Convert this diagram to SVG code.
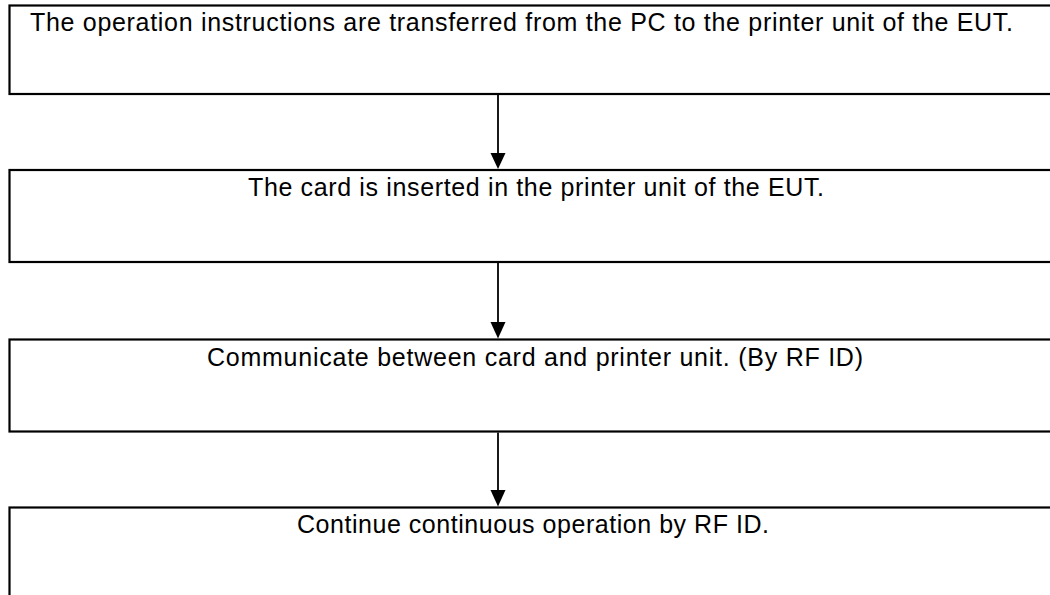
<svg xmlns="http://www.w3.org/2000/svg" width="1050" height="595" viewBox="0 0 1050 595">
<style>
.box{fill:#fff;stroke:#000;stroke-width:2.2}
.t{font-family:"Liberation Sans",Arial,sans-serif;font-size:25px;fill:#000}
.c{stroke:#000;stroke-width:1.8;fill:none}
.ah{fill:#000}
</style>
<rect width="1050" height="595" fill="#fff"/>
<g id="node1">
<rect class="box" x="9.5" y="5.5" width="1100" height="88.5"/>
<text class="t" x="30" y="31" textLength="983" lengthAdjust="spacing">The operation instructions are transferred from the PC to the printer unit of the EUT.</text>
</g>
<g id="node2">
<rect class="box" x="9.5" y="170" width="1100" height="92"/>
<text class="t" x="248" y="196" textLength="576" lengthAdjust="spacing">The card is inserted in the printer unit of the EUT.</text>
</g>
<g id="node3">
<rect class="box" x="9.5" y="339.5" width="1100" height="92"/>
<text class="t" x="207" y="366" textLength="656" lengthAdjust="spacing">Communicate between card and printer unit. (By RF ID)</text>
</g>
<g id="node4">
<rect class="box" x="9.5" y="507.5" width="1100" height="120"/>
<text class="t" x="297" y="533" textLength="472" lengthAdjust="spacing">Continue continuous operation by RF ID.</text>
</g>
<g id="connectors">
<line class="c" x1="498" y1="95" x2="498" y2="154"/>
<polygon class="ah" points="490.5,153 505.5,153 498,169"/>
<line class="c" x1="498" y1="263" x2="498" y2="323"/>
<polygon class="ah" points="490.5,322 505.5,322 498,338.5"/>
<line class="c" x1="498" y1="432.5" x2="498" y2="491"/>
<polygon class="ah" points="490.5,490 505.5,490 498,506.5"/>
</g>
</svg>
